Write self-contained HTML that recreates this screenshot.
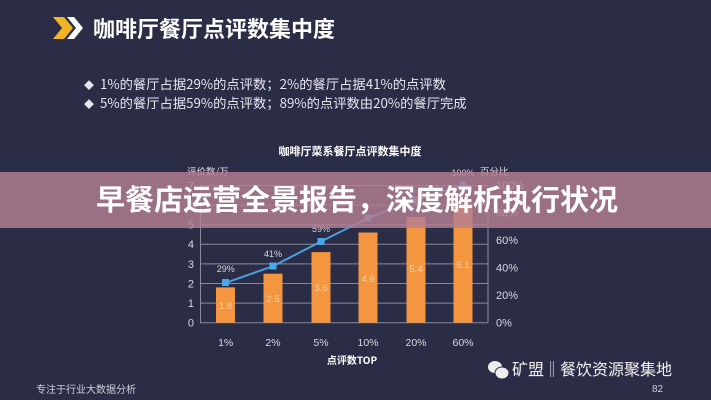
<!DOCTYPE html>
<html><head><meta charset="utf-8"><style>
body{margin:0;width:711px;height:400px;overflow:hidden;background:#2b2c46;font-family:"Liberation Sans","Noto Sans CJK SC",sans-serif}
</style></head><body>
<svg width="711" height="400" xmlns="http://www.w3.org/2000/svg" style="position:absolute;left:0;top:0">
<rect width="711" height="400" fill="#2b2c46"/>
<polygon points="53,17 64,17 73,28 64,39 53,39 62,28" fill="#f0b323"/>
<polygon points="67,17 74,17 83,28 74,39 67,39 76,28" fill="#ffffff"/>
<text x="93" y="37" fill="#fff" font-size="22" font-weight="bold" font-family="Noto Sans CJK SC,sans-serif">咖啡厅餐厅点评数集中度</text>
<text x="84" y="89" fill="#e6e6ee" font-size="10" font-family="Noto Sans CJK SC,sans-serif">◆</text>
<text x="84" y="108" fill="#e6e6ee" font-size="10" font-family="Noto Sans CJK SC,sans-serif">◆</text>
<text x="100" y="89" fill="#e6e6ee" font-size="13.3" font-family="Noto Sans CJK SC,sans-serif">1%的餐厅占据29%的点评数；2%的餐厅占据41%的点评数</text>
<text x="100" y="108" fill="#e6e6ee" font-size="13.3" font-family="Noto Sans CJK SC,sans-serif">5%的餐厅占据59%的点评数；89%的点评数由20%的餐厅完成</text>
<text x="350" y="155" fill="#fff" font-size="11" font-weight="bold" text-anchor="middle" font-family="Noto Sans CJK SC,sans-serif">咖啡厅菜系餐厅点评数集中度</text>
<text x="187" y="175" fill="#ddd" font-size="9.5" font-family="Noto Sans CJK SC,sans-serif">评价数/万</text>
<text x="480" y="175" fill="#ddd" font-size="9.5" font-family="Noto Sans CJK SC,sans-serif">百分比</text>
<g stroke="#8a8ba0" stroke-width="1">
<line x1="200" y1="322.7" x2="488" y2="322.7"/>
<line x1="200" y1="303.1" x2="488" y2="303.1"/>
<line x1="200" y1="283.5" x2="488" y2="283.5"/>
<line x1="200" y1="263.9" x2="488" y2="263.9"/>
<line x1="200" y1="244.3" x2="488" y2="244.3"/>
<line x1="200" y1="224.7" x2="488" y2="224.7"/>
<line x1="200" y1="205.1" x2="488" y2="205.1"/>
<line x1="200" y1="185.5" x2="488" y2="185.5"/>
<line x1="200.5" y1="185" x2="200.5" y2="323"/>
<line x1="488" y1="185" x2="488" y2="323"/>
</g>
<g fill="#d8d8e0" font-size="11" text-anchor="end">
<text x="194" y="326.5">0</text><text x="194" y="307">1</text><text x="194" y="287.5">2</text><text x="194" y="268">3</text><text x="194" y="248">4</text><text x="194" y="228.5">5</text><text x="194" y="209">6</text><text x="194" y="189.5">7</text>
</g>
<g fill="#d8d8e0" font-size="11">
<text x="496" y="326.5">0%</text><text x="496" y="299">20%</text><text x="496" y="271.5">40%</text><text x="496" y="244">60%</text><text x="496" y="216.5">80%</text><text x="496" y="189">100%</text>
</g>
<g fill="#f3963f">
<rect x="216" y="287.4" width="19" height="35.3"/>
<rect x="263.5" y="273.7" width="19" height="49"/>
<rect x="311.5" y="252.1" width="19" height="70.6"/>
<rect x="358.5" y="232.5" width="19" height="90.2"/>
<rect x="406.5" y="216.9" width="19" height="105.8"/>
<rect x="453.5" y="203.1" width="19" height="119.6"/>
</g>
<g fill="#f8d2a8" font-size="9.5" text-anchor="middle">
<text x="225.5" y="309">1.8</text><text x="273" y="302">2.5</text><text x="321" y="291">3.6</text><text x="368" y="282">4.6</text><text x="416" y="272">5.4</text><text x="463" y="268">6.1</text>
</g>
<polyline points="225.7,282.8 273,266.2 321,241.5 368,218 416,200.2 463,185" fill="none" stroke="#4a9fe0" stroke-width="2"/>
<g fill="#4aa8e8">
<rect x="222" y="279" width="7" height="7"/><rect x="269.5" y="262.5" width="7" height="7"/><rect x="317.5" y="238" width="7" height="7"/><rect x="364.5" y="214.5" width="7" height="7"/><rect x="412.5" y="196.5" width="7" height="7"/><rect x="459.5" y="181.5" width="7" height="7"/>
</g>
<g fill="#d8d8e0" font-size="9" text-anchor="middle">
<text x="225.7" y="272">29%</text><text x="273" y="257">41%</text><text x="321" y="232">59%</text><text x="463" y="176">100%</text>
</g>
<g fill="#d8d8e0" font-size="10.5" text-anchor="middle">
<text x="225.7" y="346">1%</text><text x="273" y="346">2%</text><text x="321" y="346">5%</text><text x="368" y="346">10%</text><text x="416" y="346">20%</text><text x="463" y="346">60%</text>
</g>
<text x="352" y="364" fill="#fff" font-size="10" font-weight="bold" text-anchor="middle" font-family="Noto Sans CJK SC,sans-serif">点评数TOP</text>
<text x="36" y="393" fill="#cfcfda" font-size="10" font-family="Noto Sans CJK SC,sans-serif">专注于行业大数据分析</text>
<text x="652" y="392" fill="#cfcfda" font-size="10">82</text>
<ellipse cx="495" cy="367" rx="7" ry="6" fill="#eee"/>
<ellipse cx="502" cy="373" rx="7" ry="6" fill="#eee" stroke="#2b2c46" stroke-width="1"/>
<text x="512" y="375" fill="#f2f2f2" font-size="16" font-family="Noto Sans CJK SC,sans-serif">矿盟‖餐饮资源聚集地</text>
<rect x="0" y="172" width="711" height="56" fill="#b57e92" opacity="0.82"/>
<text x="357" y="210" fill="#fff" font-size="29" font-weight="bold" text-anchor="middle" font-family="Noto Sans CJK SC,sans-serif">早餐店运营全景报告，深度解析执行状况</text>
</svg>
</body></html>
